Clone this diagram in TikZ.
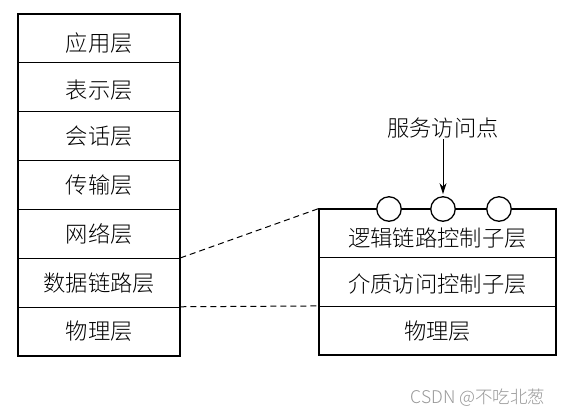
\documentclass[tikz,border=0pt]{standalone}
\usepackage{fontspec}
\setmainfont{Noto Sans CJK SC}[UprightFont={* Light}]
\usetikzlibrary{arrows.meta}
\begin{document}
\begin{tikzpicture}[x=1pt,y=-1pt,
  layer/.style={draw, line width=0.8pt, minimum width=161.5pt, minimum height=48.86pt, inner sep=0pt, font=\fontsize{22.3}{22.3}\selectfont},
  rlayer/.style={draw, line width=0.8pt, minimum width=237pt, minimum height=48.67pt, inner sep=0pt, font=\fontsize{22.3}{22.3}\selectfont},
  low/.style={text height=#1, text depth=0pt},
  outer/.style={draw, line width=2pt},
  sap/.style={circle, draw, fill=white, line width=1.3pt, minimum size=24.5pt, inner sep=0pt},
  link/.style={line width=1pt, dash pattern=on 6pt off 4pt},
  lbl/.style={font=\fontsize{22.3}{22.3}\selectfont, inner sep=1pt}]
\useasboundingbox (0,0) rectangle (561,416);
\fill[white] (0,0) rectangle (561,416);
% left stack
\node[layer, low=25.5pt] (a1) at (99.25,38.43) {应用层};
\node[layer, low=23pt] (a2) at (99.25,87.29) {表示层};
\node[layer] (a3) at (99.25,136.15) {会话层};
\node[layer] (a4) at (99.25,185.01) {传输层};
\node[layer] (a5) at (99.25,233.87) {网络层};
\node[layer] (a6) at (99.25,282.73) {数据链路层};
\node[layer] (a7) at (99.25,331.59) {物理层};
\draw[outer] (a1.north west) rectangle (a7.south east);
% right stack
\node[rlayer, low=26.5pt] (b1) at (437.5,233.33) {逻辑链路控制子层};
\node[rlayer, low=20.5pt] (b2) at (437.5,282.0) {介质访问控制子层};
\node[rlayer] (b3) at (437.5,330.67) {物理层};
\draw[outer] (b1.north west) rectangle (b3.south east);
% service access points
\node[sap] (s1) at (389,209) {};
\node[sap] (s2) at (443,209) {};
\node[sap] (s3) at (499,209) {};
\node[lbl] (t) at (443,128) {服务访问点};
\draw[line width=1pt, -{Stealth[length=11pt,width=7pt]}, shorten >=2pt] (t.south) -- (s2.north);
% dashed connectors
\draw[link] (a6.north east) -- (b1.north west);
\draw[link] (a7.north east) -- (b3.north west);
% credit
\node[font=\fontsize{17.5}{17.5}\selectfont, text=black!40, inner sep=0pt] (credit) at (478,398) {CSDN @不吃北葱};
\end{tikzpicture}
\end{document}
